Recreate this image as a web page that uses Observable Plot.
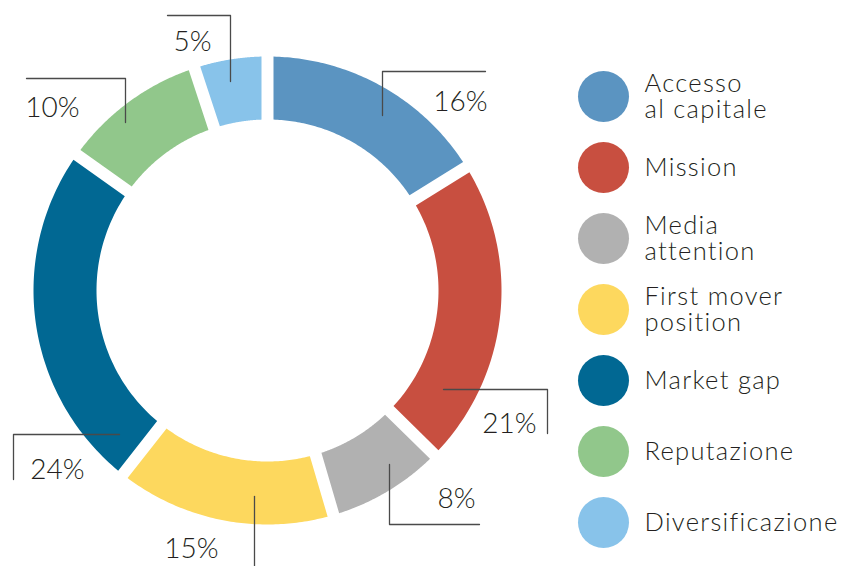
<!DOCTYPE html>
<html><head><meta charset="utf-8">
<script src="https://cdn.jsdelivr.net/npm/d3@7"></script>
<script src="https://cdn.jsdelivr.net/npm/@observablehq/plot@0.6"></script>
<style>
body{margin:0;background:#fff}
#chart{width:841px;height:566px;overflow:hidden}
</style>
</head><body><div id="chart"></div>
<script>
// ---- data ----
const categories = ["Accesso al capitale","Mission","Media attention","First mover position","Market gap","Reputazione","Diversificazione"];
const legendLabels = ["Accesso\nal capitale","Mission","Media\nattention","First mover\nposition","Market gap","Reputazione","Diversificazione"];
const values = [16,21,8,15,24,10,5];
const percentLabels = ["16%","21%","8%","15%","24%","10%","5%"];
const colors = ["#5b94c1","#c84f40","#b1b1b1","#fdd85e","#016893","#91c78b","#88c3ea"];
// annotation anchors (leader elbows and label spots, relative to the ring centre)
const leaderPaths = [
  [[115,-175],[115,-219],[218,-219]],
  [[176,99],[280,99],[280,143]],
  [[122,174],[122,234],[212,234]],
  [[-13,206],[-13,280]],
  [[-148,144],[-254,144],[-254,189]],
  [[-142,-168],[-142,-212],[-241,-212]],
  [[-37,-209],[-37,-275],[-100,-275]]
];
const labelAnchors = [[193,-180],[242,142],[189,217],[-76,267],[-210,188],[-215,-174],[-75,-240]];

// ---- build ----
const R = 234, r0 = 171, halfGap = 6;
const pie = d3.pie().sort(null).value(d => d.value)(categories.map((c,i)=>({category:c, value:values[i]})));
const ring = [];
pie.forEach(p => {
  const c = p.data.category;
  const o0 = p.startAngle + Math.asin(halfGap/R), o1 = p.endAngle - Math.asin(halfGap/R);
  const i0 = p.startAngle + Math.asin(halfGap/r0), i1 = p.endAngle - Math.asin(halfGap/r0);
  const n = 80;
  for (let k=0;k<=n;k++){const a=o0+(o1-o0)*k/n; ring.push({category:c,x:R*Math.sin(a),y:-R*Math.cos(a)});}
  for (let k=n;k>=0;k--){const a=i0+(i1-i0)*k/n; ring.push({category:c,x:r0*Math.sin(a),y:-r0*Math.cos(a)});}
});
const leaders = [];
leaderPaths.forEach((pts,i)=>pts.forEach(([x,y])=>leaders.push({category:categories[i],x,y})));
const labels = labelAnchors.map(([x,y],i)=>({x,y,text:percentLabels[i]}));
const legend = categories.map((c,i)=>({category:c, label:legendLabels[i], idx:i}));
const legendX = 336, legendTop = -194, legendStep = 71;

const font = "Lato, 'Open Sans', 'DejaVu Sans', sans-serif";
const chart = Plot.plot({
  width: 841, height: 566, margin: 0,
  x: {domain:[-267,574], axis:null},
  y: {domain:[-290,276], range:[0,566], axis:null},
  color: {domain: categories, range: colors},
  style: {fontFamily: font, background:"#fff"},
  marks: [
    Plot.line(ring, {x:"x", y:"y", z:"category", fill:"category", stroke:null, curve:"linear-closed"}),
    Plot.line(leaders, {x:"x", y:"y", z:"category", stroke:"#4a4a4a", strokeWidth:1.3}),
    Plot.text(labels, {x:"x", y:"y", text:"text", textAnchor:"middle", lineAnchor:"bottom", fontSize:28, fontWeight:300, fill:"#231f20"}),
    Plot.dot(legend, {x:()=>legendX, y:d=>legendTop+legendStep*d.idx, r:25.5, fill:"category", stroke:null}),
    Plot.text(legend, {x:()=>legendX+41, y:d=>legendTop+legendStep*d.idx, text:"label", textAnchor:"start", lineAnchor:"middle", lineHeight:1.04, fontSize:25.5, fontWeight:300, fill:"#231f20"})
  ]
});
chart.querySelectorAll('g[text-anchor="start"]').forEach(g => {
  g.setAttribute("letter-spacing", "1.3");
  g.querySelectorAll("text").forEach(t => t.style.letterSpacing = "1.3px");
});
document.getElementById("chart").appendChild(chart);
</script>
</body></html>
